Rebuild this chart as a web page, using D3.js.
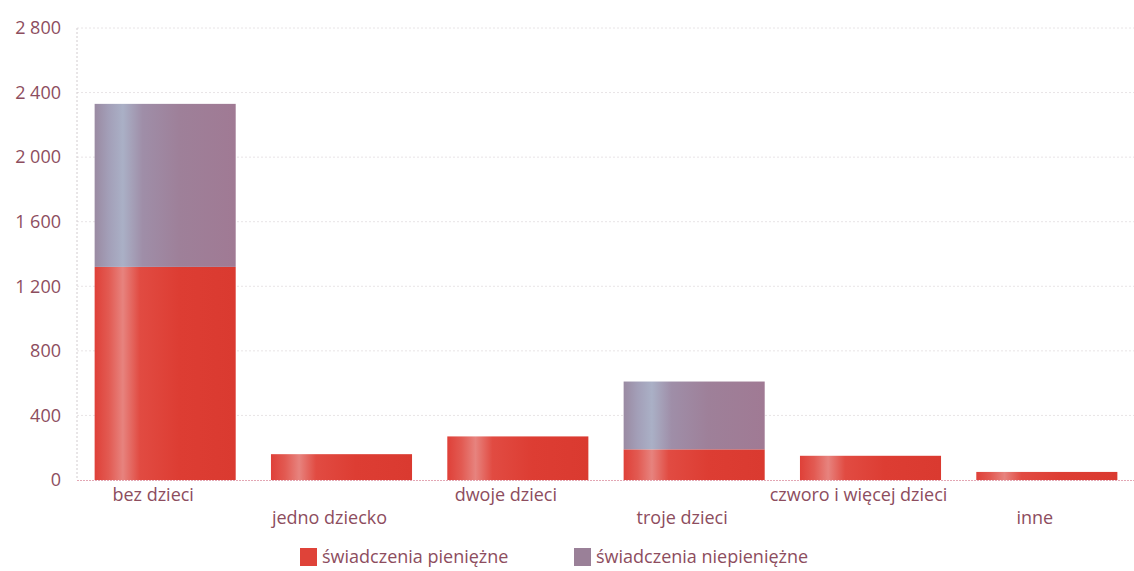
<!DOCTYPE html>
<html><head><meta charset="utf-8">
<script src="https://cdn.jsdelivr.net/npm/d3@7"></script>
<style>body{margin:0;background:#fff;} text{font-family:"Open Sans","Noto Sans",sans-serif;}</style>
</head><body>
<svg id="c" width="1134" height="571"></svg>
<script>
const categories = ["bez dzieci","jedno dziecko","dwoje dzieci","troje dzieci","czworo i więcej dzieci","inne"];
const pieniezne = [1320,160,270,190,150,50];
const niepieniezne = [1010,0,0,420,0,0];
const seriesNames = ["świadczenia pieniężne","świadczenia niepieniężne"];
const yTicks = [0,400,800,1200,1600,2000,2400,2800];

const svg = d3.select("#c");
const textColor = "#8d4d5e";
const x = d3.scaleBand().domain(categories).range([77,1135]).paddingInner(0.2).paddingOuter(0.1);
const y = d3.scaleLinear().domain([0,2800]).range([480,28]);

const defs = svg.append("defs");
function grad(id, stops){
  const g = defs.append("linearGradient").attr("id",id).attr("x1","0%").attr("x2","100%").attr("y1","0%").attr("y2","0%");
  stops.forEach(s=>g.append("stop").attr("offset",s[0]).attr("stop-color",s[1]));
}
grad("gRed",[["0%","#df4038"],["10%","#e25a52"],["20%","#e7837e"],["32%","#e14b42"],["60%","#dd3d33"],["100%","#da3a30"]]);
grad("gPur",[["0%","#9a8aa2"],["10%","#a39fb8"],["20%","#aab0c6"],["34%","#9f8ea8"],["60%","#9e8099"],["100%","#a07a94"]]);

// gridlines
svg.append("g").selectAll("line").data(yTicks.slice(1)).join("line")
  .attr("x1",77).attr("x2",1134).attr("y1",d=>y(d)).attr("y2",d=>y(d))
  .attr("stroke","#e8e4e6").attr("stroke-width",1).attr("stroke-dasharray","2,2");
// y axis line
svg.append("line").attr("x1",77).attr("x2",77).attr("y1",y(2800)).attr("y2",y(0))
  .attr("stroke","#d2cccf").attr("stroke-dasharray","2,2");

// y axis labels
const yAxis = d3.axisLeft(y).tickValues(yTicks).tickSize(0).tickPadding(0)
  .tickFormat(d=>d3.format(",")(d).replace(/,/g," "));
const ya = svg.append("g").attr("transform","translate(61,0)").call(yAxis);
ya.select(".domain").remove();
ya.selectAll("text").attr("fill",textColor).style("font-size","18px").attr("font-family","Open Sans");

// bars
const stack = categories.map((c,i)=>({c, p:pieniezne[i], n:niepieniezne[i]}));
svg.append("g").selectAll("rect").data(stack).join("rect")
  .attr("x",d=>x(d.c)).attr("width",x.bandwidth())
  .attr("y",d=>y(d.p)).attr("height",d=>y(0)-y(d.p)).attr("fill","url(#gRed)");
svg.append("g").selectAll("rect").data(stack.filter(d=>d.n>0)).join("rect")
  .attr("x",d=>x(d.c)).attr("width",x.bandwidth())
  .attr("y",d=>y(d.p+d.n)).attr("height",d=>y(d.p)-y(d.p+d.n)).attr("fill","url(#gPur)");

// baseline
svg.append("line").attr("x1",77).attr("x2",1134).attr("y1",y(0)+0.5).attr("y2",y(0)+0.5)
  .attr("stroke","#e3a7b4").attr("stroke-dasharray","2,1");

// x labels (staggered)
const xAxis = d3.axisBottom(x).tickSize(0);
const xa = svg.append("g").attr("transform",`translate(0,${y(0)})`).call(xAxis);
xa.select(".domain").remove();
xa.selectAll("text").attr("fill",textColor).style("font-size","18px")
  .attr("dx",-12)
  .attr("y",(d,i)=> i%2===0 ? 8 : 31).attr("dy","0.71em");

// legend
const legendX = [300,574];
const lg = svg.append("g");
seriesNames.forEach((s,i)=>{
  lg.append("rect").attr("x",legendX[i]).attr("y",548).attr("width",17).attr("height",18)
    .attr("fill",i===0?"#df4339":"#9a8098");
  lg.append("text").attr("x",legendX[i]+22).attr("y",563).text(s)
    .attr("fill",textColor).style("font-size","18px");
});
</script>
</body></html>
